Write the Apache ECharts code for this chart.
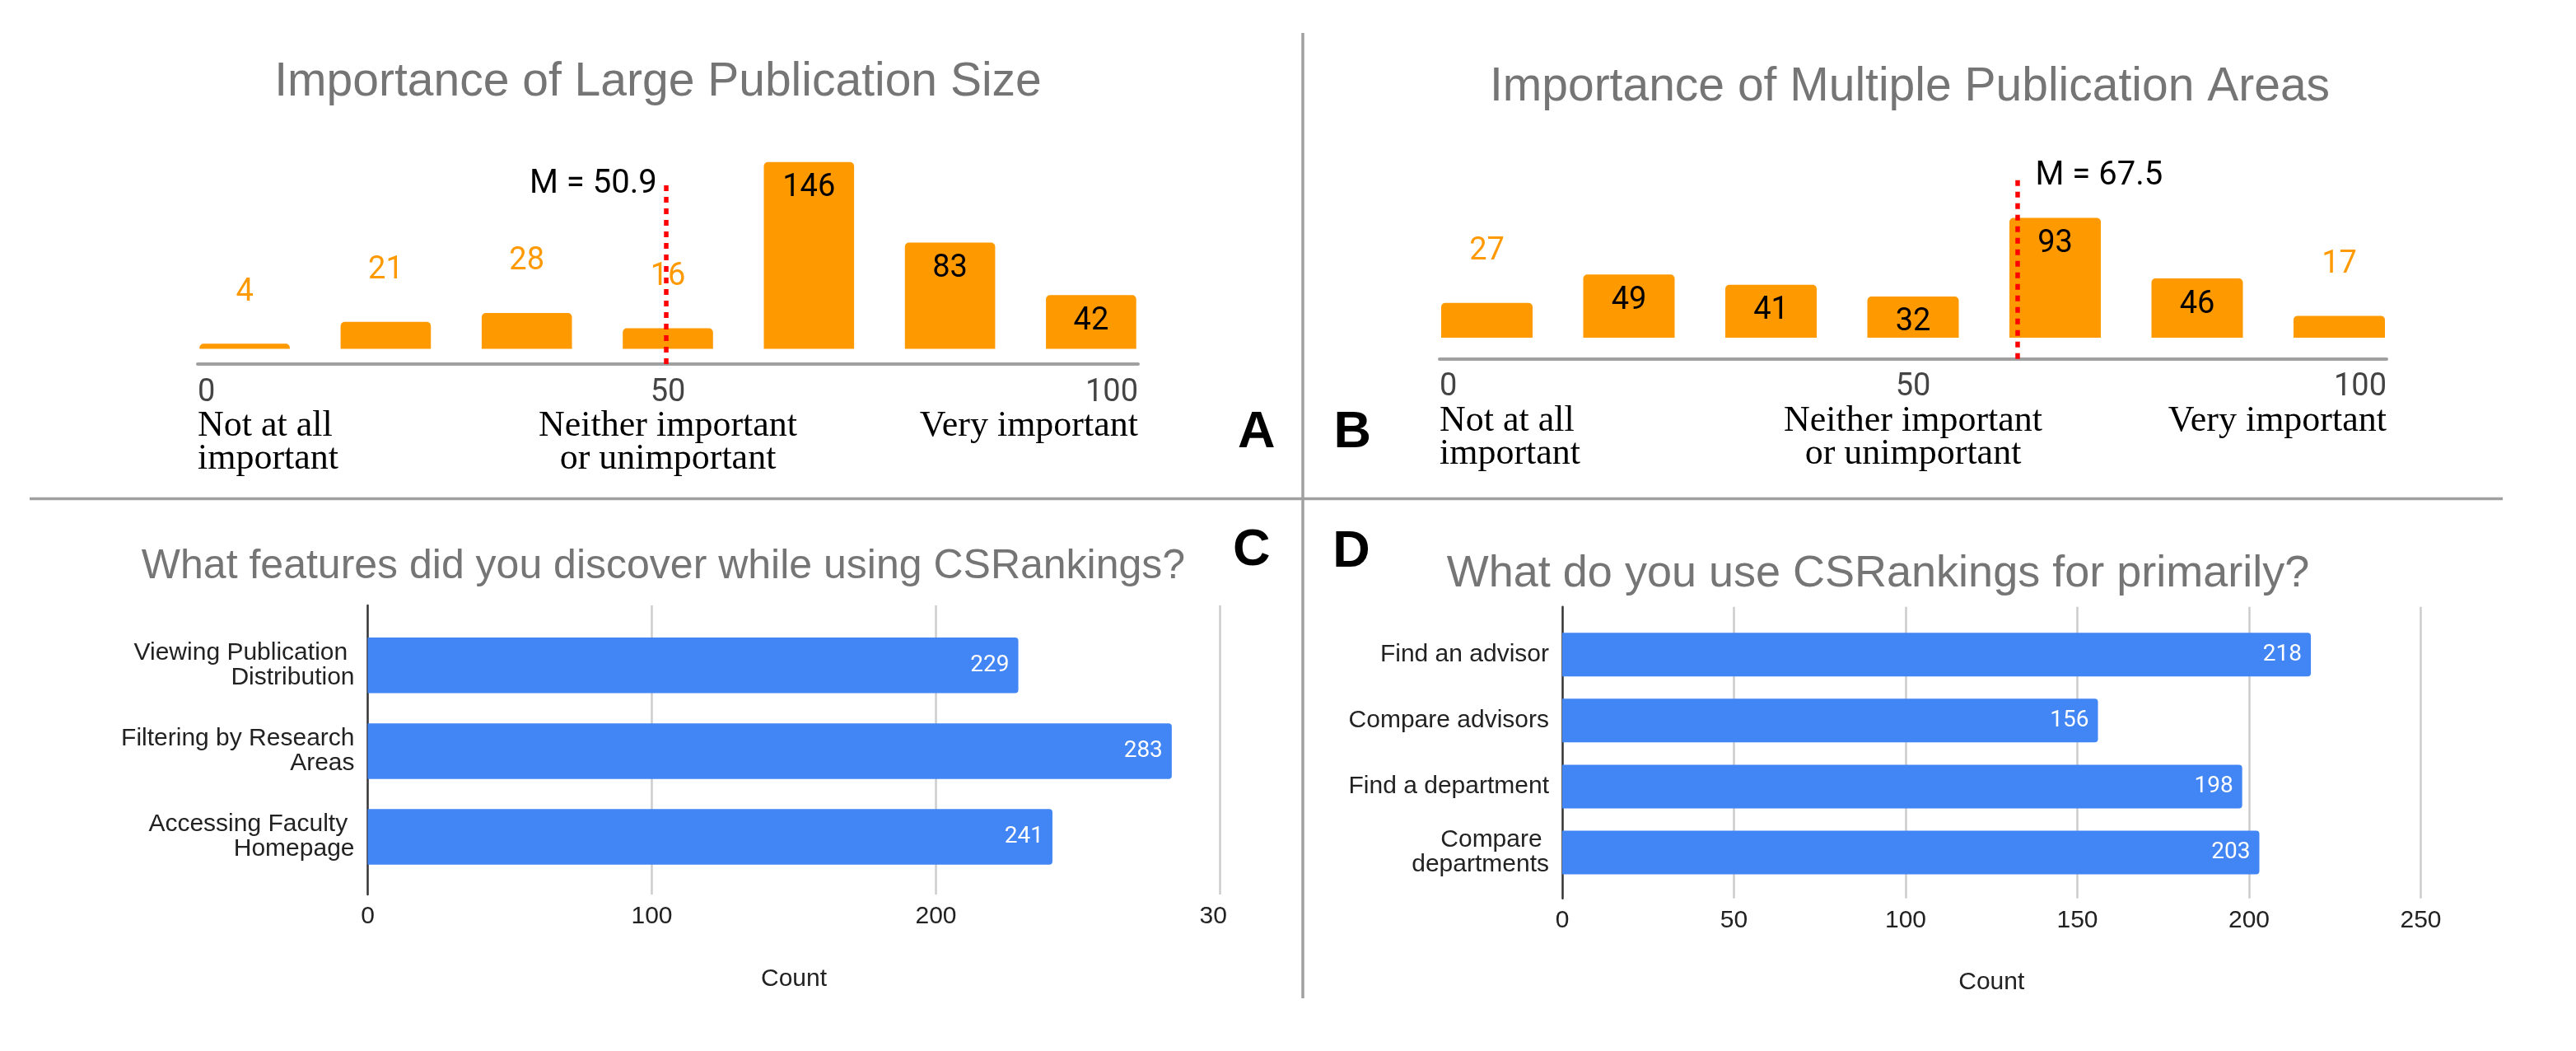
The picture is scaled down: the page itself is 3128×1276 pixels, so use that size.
<!DOCTYPE html>
<html>
<head>
<meta charset="utf-8">
<title>CSRankings survey</title>
<script src="https://cdn.jsdelivr.net/npm/echarts@6/dist/echarts.min.js"></script>
<style>
  html, body { margin: 0; padding: 0; background: #ffffff; }
  #main   { position: absolute; left: 0; top: 0; width: 3128px; height: 1276px; }
  #panelC { position: absolute; left: 0; top: 0; width: 1490px; height: 1276px; }
</style>
</head>
<body>
<div id="main"></div>
<div id="panelC"></div>
<script>
// ---------------- data ----------------
// Panel A
const titleA = 'Importance of Large Publication Size';
const countsA = [4, 21, 28, 16, 146, 83, 42];
const meanTextA = 'M = 50.9';
const meanLineA = 49.8;          // where the dotted line sits on the 0-100 scale
// Panel B
const titleB = 'Importance of Multiple Publication Areas';
const countsB = [27, 49, 41, 32, 93, 46, 17];
const meanTextB = 'M = 67.5';
const meanLineB = 61;
// shared 0-100 rating scale (A, B)
const binCenters = [5, 20, 35, 50, 65, 80, 95];
const scaleTicks = [0, 50, 100];
const scaleAnchors = ['Not at all\nimportant', 'Neither important\nor unimportant', 'Very important'];
// Panel C
const titleC = 'What features did you discover while using CSRankings?';
const featuresC = ['Viewing Publication Distribution', 'Filtering by Research Areas', 'Accessing Faculty Homepage'];
const countsC = [229, 283, 241];
const countTicksC = [0, 100, 200, 300];
// Panel D
const titleD = 'What do you use CSRankings for primarily?';
const usesD = ['Find an advisor', 'Compare advisors', 'Find a department', 'Compare departments'];
const countsD = [218, 156, 198, 203];
const countTicksD = [0, 50, 100, 150, 200, 250];
const countAxisName = 'Count';
const panelLetters = ['A', 'B', 'C', 'D'];

// ---------------- styles ----------------
const ORANGE = '#FF9900';
const BLUE = '#4285F4';
const SANS = "'Liberation Sans', Arial, sans-serif";
const ROBOTO = "Roboto, 'Liberation Sans', sans-serif";
const SERIF = "'Liberation Serif', 'Times New Roman', serif";
const INSIDE_MIN = 30;  // bars at least this tall carry their label inside

// ---------------- builders ----------------
function likertPanel(idx, counts, meanPos, meanText, L) {
  const grid = { left: L.left, top: L.top, width: L.width, height: L.height,
                 containLabel: false, outerBoundsMode: 'none' };
  const xAxis = {
    type: 'value', gridIndex: idx, min: scaleTicks[0], max: scaleTicks[scaleTicks.length - 1],
    interval: scaleTicks[1] - scaleTicks[0], position: 'bottom',
    axisLine: { show: true, onZero: false, lineStyle: { color: '#a0a0a0', width: 4 } },
    axisTick: { show: false }, splitLine: { show: false },
    axisLabel: {
      margin: 14.5, alignMinLabel: 'left', alignMaxLabel: 'right',
      formatter: function (v) {
        const k = scaleTicks.indexOf(v);
        if (k < 0) return '';
        return ['{n|' + v + '}'].concat(scaleAnchors[k].split('\n').map(s => '{s|' + s + '}')).join('\n');
      },
      rich: {
        n: { fontFamily: ROBOTO, fontSize: 38, color: '#444444', lineHeight: 41 },
        s: { fontFamily: SERIF, fontSize: 44, color: '#000000', lineHeight: 40 }
      }
    }
  };
  const yAxis = { type: 'value', gridIndex: idx, min: L.yMin, max: L.yMax, show: false };
  const series = {
    type: 'bar', xAxisIndex: idx, yAxisIndex: idx, barWidth: L.barWidth, clip: false,
    itemStyle: { color: ORANGE, borderRadius: [5, 5, 0, 0] },
    label: { show: true, fontFamily: ROBOTO, fontSize: 38, formatter: p => p.value[1] },
    data: binCenters.map((x, k) => ({
      value: [x, counts[k]],
      label: counts[k] >= INSIDE_MIN
        ? { position: 'insideTop', distance: 13, color: '#000000' }
        : { position: 'top', distance: 43, color: ORANGE }
    })),
    markLine: {
      silent: true, symbol: 'none', animation: false,
      label: { show: false },
      lineStyle: { color: '#FF0000', width: 5.5, type: [7, 7], opacity: 1 },
      emphasis: { disabled: true },
      data: [{ xAxis: meanPos }]
    },
    markPoint: {
      silent: true, symbol: 'circle', symbolSize: 0, animation: false,
      data: [{
        coord: [meanPos, L.yMax],
        label: { show: true, formatter: meanText, position: L.textSide, distance: L.textDist,
                 color: '#000000', fontFamily: ROBOTO, fontSize: 40 }
      }]
    }
  };
  return { grid, xAxis, yAxis, series };
}

function countPanel(gOuter, gInner, categories, counts, ticks, L) {
  const grids = [
    { left: L.left, top: L.top, width: L.width, height: L.height, containLabel: false, outerBoundsMode: 'none' },
    { left: L.left, top: L.innerTop, width: L.width, height: L.innerHeight, containLabel: false, outerBoundsMode: 'none' }
  ];
  const xMin = ticks[0], xMax = ticks[ticks.length - 1], step = ticks[1] - ticks[0];
  const xAxes = [
    {
      type: 'value', gridIndex: gOuter, min: xMin, max: xMax, interval: step,
      axisLine: { show: false }, axisTick: { show: false },
      splitLine: { show: true, showMinLine: false, lineStyle: { color: '#cccccc', width: 2.5 } },
      axisLabel: { margin: 12, fontFamily: SANS, fontSize: 30, color: '#222222' },
      name: countAxisName, nameLocation: 'middle', nameGap: L.nameGap,
      nameTextStyle: { fontFamily: SANS, fontSize: 30, color: '#222222' }
    },
    { type: 'value', gridIndex: gInner, min: xMin, max: xMax, show: false }
  ];
  const yAxes = [
    {
      type: 'value', gridIndex: gOuter, min: 0, max: 1,
      axisLine: { show: true, onZero: true, lineStyle: { color: '#333333', width: 2.5 } },
      axisTick: { show: false }, axisLabel: { show: false }, splitLine: { show: false }
    },
    {
      type: 'category', gridIndex: gInner, data: categories, inverse: true,
      axisLine: { show: false }, axisTick: { show: false },
      axisLabel: { interval: 0, margin: 16, width: 290, overflow: 'break',
                   fontFamily: SANS, fontSize: 30, lineHeight: 30, color: '#222222' }
    }
  ];
  const series = {
    type: 'bar', xAxisIndex: gInner, yAxisIndex: gInner, barWidth: L.barWidth,
    data: counts,
    itemStyle: { color: BLUE, borderRadius: [0, 4, 4, 0] },
    label: { show: true, position: 'insideRight', distance: 11, color: '#ffffff',
             fontFamily: ROBOTO, fontSize: 28 }
  };
  return { grids, xAxes, yAxes, series };
}

// ---------------- main chart: A, B, D, dividers, letters ----------------
const pA = likertPanel(0, countsA, meanLineA, meanTextA,
  { left: 240, width: 1142, top: 224, height: 218, yMin: -12, yMax: 128.5, barWidth: 109.6,
    textSide: 'left', textDist: 11 });
const pB = likertPanel(1, countsB, meanLineB, meanTextB,
  { left: 1748, width: 1150, top: 214, height: 221.7, yMin: -16.4, yMax: 125.2, barWidth: 111,
    textSide: 'right', textDist: 22 });
const pD = countPanel(2, 3, usesD, countsD, countTicksD,
  { left: 1897, width: 1042.5, top: 736.7, height: 354, innerTop: 754.7, innerHeight: 320.3,
    barWidth: 53, nameGap: 87.5 });

function titleItem(text, cx, top, size) {
  return { text: text, left: cx, top: top, textAlign: 'center', padding: 0,
           textStyle: { fontFamily: SANS, fontSize: size, fontWeight: 'normal', color: '#757575' } };
}
function letterItem(ch, left, top) {
  return { type: 'text', left: left, top: top, silent: true,
           style: { text: ch, fill: '#000000', font: "bold 63px 'Liberation Sans', Arial, sans-serif" } };
}

const mainChart = echarts.init(document.getElementById('main'), null, { renderer: 'canvas' });
mainChart.setOption({
  animation: false,
  backgroundColor: '#ffffff',
  textStyle: { fontFamily: SANS },
  title: [
    titleItem(titleA, 799, 72, 57),
    titleItem(titleB, 2319, 78, 57),
    titleItem(titleD, 2280.5, 669.7, 54)
  ],
  grid: [pA.grid, pB.grid].concat(pD.grids),
  xAxis: [pA.xAxis, pB.xAxis].concat(pD.xAxes),
  yAxis: [pA.yAxis, pB.yAxis].concat(pD.yAxes),
  series: [pA.series, pB.series, pD.series],
  graphic: [
    { type: 'line', silent: true, shape: { x1: 36, y1: 605.5, x2: 3039, y2: 605.5 },
      style: { stroke: '#a0a0a0', lineWidth: 3.5 } },
    { type: 'line', silent: true, shape: { x1: 1582, y1: 40, x2: 1582, y2: 1212 },
      style: { stroke: '#a0a0a0', lineWidth: 3.5 } },
    letterItem(panelLetters[0], 1503, 494),
    letterItem(panelLetters[1], 1619.5, 494),
    letterItem(panelLetters[2], 1497, 637),
    letterItem(panelLetters[3], 1618.3, 638.7)
  ]
});

// ---------------- panel C (own canvas, clipped at its right edge) ----------------
const pC = countPanel(0, 1, featuresC, countsC, countTicksC,
  { left: 446.5, width: 1035, top: 735, height: 351, innerTop: 755.6, innerHeight: 312.6,
    barWidth: 67.5, nameGap: 88 });
const chartC = echarts.init(document.getElementById('panelC'), null, { renderer: 'canvas' });
chartC.setOption({
  animation: false,
  textStyle: { fontFamily: SANS },
  title: [titleItem(titleC, 805.5, 663.5, 50)],
  grid: pC.grids,
  xAxis: pC.xAxes,
  yAxis: pC.yAxes,
  series: [pC.series]
});
</script>
</body>
</html>
